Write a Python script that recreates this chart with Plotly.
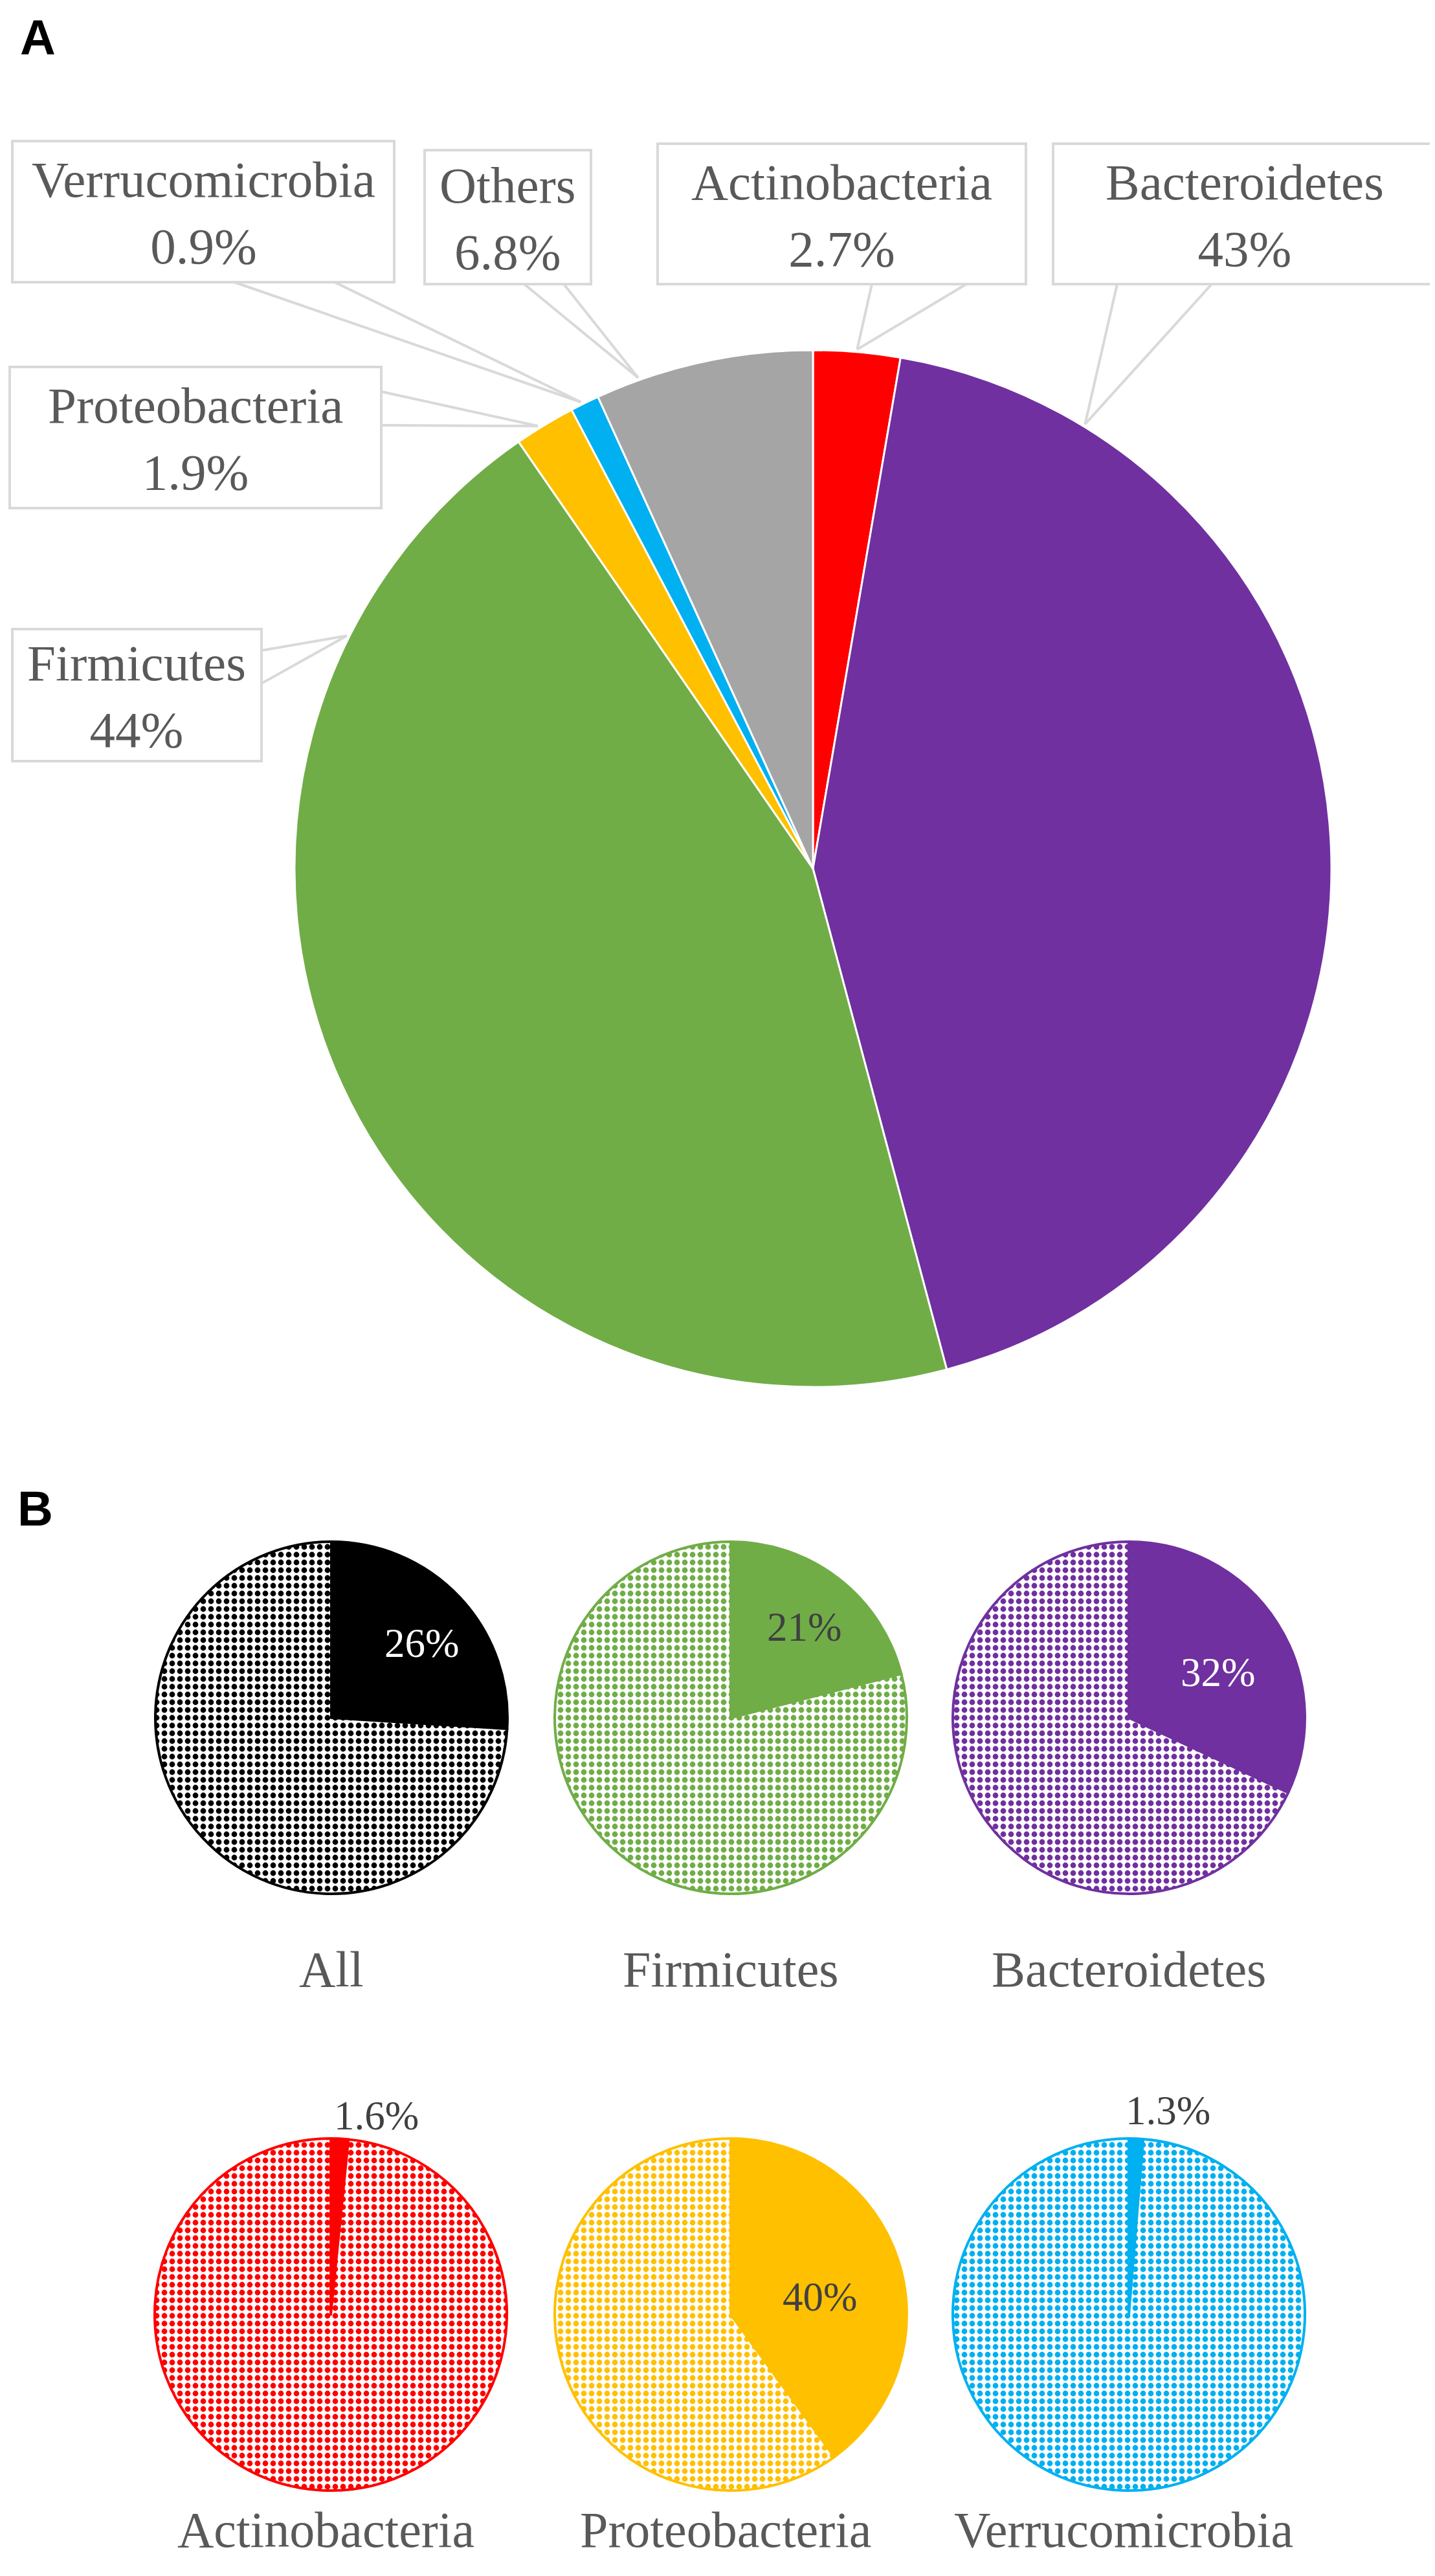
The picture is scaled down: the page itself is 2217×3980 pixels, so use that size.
import math
import plotly.graph_objects as go

W, H = 2217, 3980

# ---------------- data ----------------
phyla = ["Actinobacteria", "Bacteroidetes", "Firmicutes", "Proteobacteria", "Verrucomicrobia", "Others"]
share = [2.7, 43.1, 44.5, 1.9, 0.9, 6.8]
share_text = ["2.7%", "43%", "44%", "1.9%", "0.9%", "6.8%"]
phyla_colors = ["#FF0000", "#7030A0", "#70AD47", "#FFC000", "#00B0F0", "#A5A5A5"]

groups = ["All", "Firmicutes", "Bacteroidetes", "Actinobacteria", "Proteobacteria", "Verrucomicrobia"]
group_pct = [26, 21, 32, 1.6, 40, 1.3]
group_pct_text = ["26%", "21%", "32%", "1.6%", "40%", "1.3%"]
group_colors = ["#000000", "#70AD47", "#7030A0", "#FF0000", "#FFC000", "#00B0F0"]
group_pct_font = ["white", "#404040", "white", "#404040", "#404040", "#404040"]

# ---------------- layout constants (pixels) ----------------
MAIN_C = (1248, 1334)
MAIN_R = 801
SMALL_R = 272
small_centers = [(504, 2646), (1121, 2646), (1736, 2646),
                 (503, 3568), (1121, 3568), (1736, 3568)]
# callout boxes (x0, y0, x1, y1) in phyla order
callout_box = [(1008, 214, 1577, 431), (1619, 214, 2211, 431), (11, 964, 396, 1168),
               (7, 559, 581, 777), (11, 210, 601, 428), (648, 224, 905, 431)]
callout_base = [[(1339, 431), (1485, 431)], [(1718, 431), (1864, 431)],
                [(396, 997), (396, 1048)], [(581, 597), (581, 649)],
                [(354, 428), (509, 428)], [(802, 431), (863, 431)]]
tip_frac = [0.5, 0.14, 0.82, 0.4, 0.4, 0.2]
# percent label placement in small pies: (radius fraction, angle deg clockwise from top)
pct_pos = [(0.68, 49), (0.68, 38), (0.58, 61), (1.18, 12.6), (0.52, 76.6), (1.2, 10.6)]

SERIF = "Liberation Serif"
GRAY = "#595959"
LEADER = "#D9D9D9"


def px(x):
    return x / W


def py(y):
    return 1 - y / H


def domain(c, r):
    return dict(x=[px(c[0] - r), px(c[0] + r)], y=[py(c[1] + r), py(c[1] - r)])


fig = go.Figure()

# main pie
fig.add_trace(go.Pie(
    labels=phyla, values=share, sort=False, direction="clockwise", rotation=0,
    marker=dict(colors=phyla_colors, line=dict(color="white", width=3)),
    textinfo="none", hoverinfo="label+percent", domain=domain(MAIN_C, MAIN_R),
    showlegend=False,
))

# small pies
for i, (g, p, col) in enumerate(zip(groups, group_pct, group_colors)):
    fig.add_trace(go.Pie(
        labels=[g, "rest"], values=[p, 100 - p], sort=False, direction="clockwise", rotation=0,
        marker=dict(colors=[col, "white"], line=dict(color=col, width=4),
                    pattern=dict(shape=["", "."], fgcolor=[col, col], bgcolor=[col, "white"],
                                 size=12, solidity=0.42, fillmode="replace")),
        textinfo="none", domain=domain(small_centers[i], SMALL_R), showlegend=False,
    ))

shapes = []
annotations = []

# callouts for main pie
total = sum(share)
start = 0.0
for i, v in enumerate(share):
    span = v / total * 360
    ang = math.radians(start + tip_frac[i] * span)
    start += span
    rt = MAIN_R * 1.005
    tx = MAIN_C[0] + rt * math.sin(ang)
    ty = MAIN_C[1] - rt * math.cos(ang)
    for bx, by in callout_base[i]:
        shapes.append(dict(type="line", xref="paper", yref="paper",
                           x0=px(bx), y0=py(by), x1=px(tx), y1=py(ty),
                           line=dict(color=LEADER, width=4)))
for i, (x0, y0, x1, y1) in enumerate(callout_box):
    shapes.append(dict(type="rect", xref="paper", yref="paper",
                       x0=px(x0), y0=py(y1), x1=px(x1), y1=py(y0),
                       line=dict(color=LEADER, width=4), fillcolor="white"))
    annotations.append(dict(xref="paper", yref="paper", x=px((x0 + x1) / 2), y=py((y0 + y1) / 2 + 2),
                            text=f"{phyla[i]}<br>{share_text[i]}", showarrow=False,
                            xanchor="center", yanchor="middle",
                            font=dict(family=SERIF, size=79, color=GRAY)))

# small pie labels
for i, c in enumerate(small_centers):
    rf, a = pct_pos[i]
    a = math.radians(a)
    lx = c[0] + rf * SMALL_R * math.sin(a)
    ly = c[1] - rf * SMALL_R * math.cos(a)
    annotations.append(dict(xref="paper", yref="paper", x=px(lx), y=py(ly + 6),
                            text=group_pct_text[i], showarrow=False,
                            xanchor="center", yanchor="middle",
                            font=dict(family=SERIF, size=63, color=group_pct_font[i])))
    name_y = 3034 if i < 3 else 3900
    annotations.append(dict(xref="paper", yref="paper", x=px(c[0] - 8 if i >= 3 else c[0]), y=py(name_y),
                            text=groups[i], showarrow=False,
                            xanchor="center", yanchor="middle",
                            font=dict(family=SERIF, size=78, color=GRAY)))

# panel letters
for letter, (lx, ly) in zip(["A", "B"], [(50, 46), (46, 2318)]):
    annotations.append(dict(xref="paper", yref="paper", x=px(lx), y=py(ly + 4),
                            text=f"<b>{letter}</b>", showarrow=False,
                            xanchor="center", yanchor="middle",
                            font=dict(family="Liberation Sans", size=76, color="black")))

fig.update_layout(
    width=W, height=H, margin=dict(l=0, r=0, t=0, b=0),
    paper_bgcolor="white", plot_bgcolor="white",
    shapes=shapes, annotations=annotations, showlegend=False,
)

fig.write_html("out.html")
